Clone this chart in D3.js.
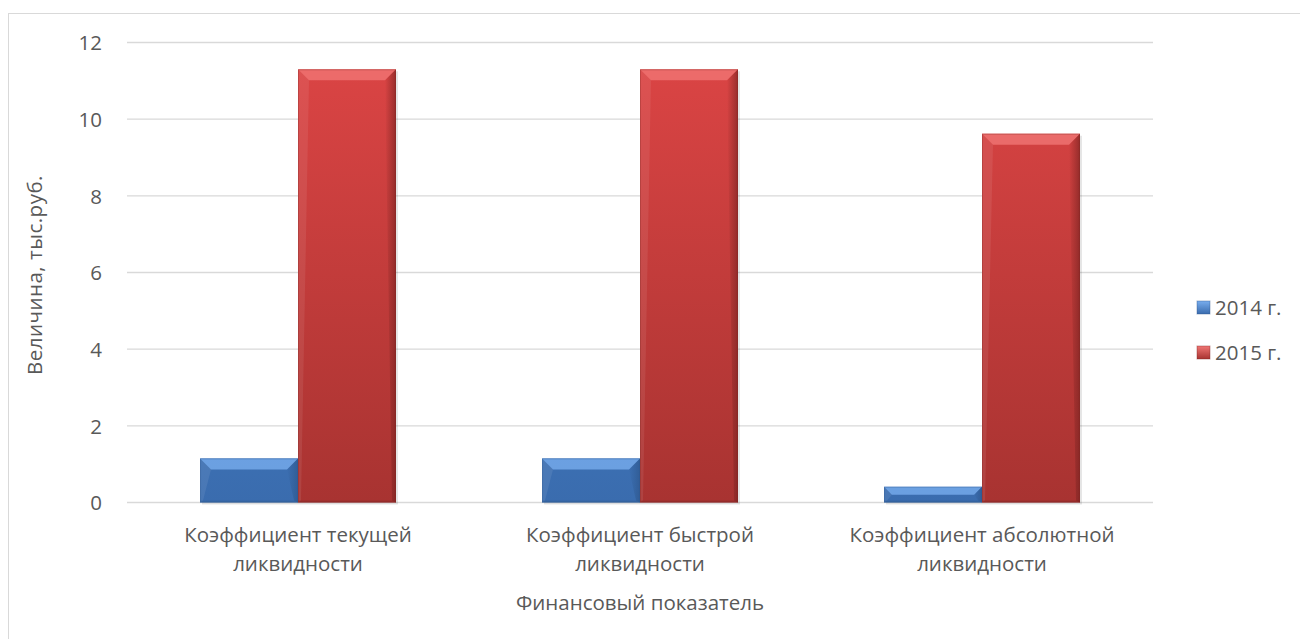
<!DOCTYPE html>
<html><head><meta charset="utf-8">
<script src="https://cdn.jsdelivr.net/npm/d3@7"></script>
<style>body{margin:0;background:#fff;} text{font-family:"Open Sans","Liberation Sans",sans-serif;}</style>
</head><body>
<svg id="c" width="1300" height="639"></svg>
<script>
const categories = [["Коэффициент текущей","ликвидности"],["Коэффициент быстрой","ликвидности"],["Коэффициент абсолютной","ликвидности"]];
const seriesNames = ["2014 г.","2015 г."];
const values2014 = [1.15, 1.15, 0.41];
const values2015 = [11.3, 11.3, 9.62];
const yTicks = [0,2,4,6,8,10,12];

const FS = 20.5;
const svg = d3.select("#c");
const M = {left:127, right:1153, top:42.5, bottom:502.5};
const colors = [
  {top:"#4a8ad6", bot:"#3a6cae", light:"#78adee", dark:"#2d568c"},
  {top:"#dd4545", bot:"#a83331", light:"#f07674", dark:"#7c2422"}
];
const defs = svg.append("defs");
colors.forEach((c,i)=>{
  const g = defs.append("linearGradient").attr("id","g"+i).attr("x1",0).attr("x2",0).attr("gradientUnits","userSpaceOnUse").attr("y1",M.top).attr("y2",M.bottom);
  g.append("stop").attr("offset",0).attr("stop-color",c.top);
  g.append("stop").attr("offset",1).attr("stop-color",c.bot);
  const lg = defs.append("linearGradient").attr("id","lg"+i).attr("x1",0).attr("y1",0).attr("x2",0).attr("y2",1);
  lg.append("stop").attr("offset",0).attr("stop-color",c.light);
  lg.append("stop").attr("offset",1).attr("stop-color",c.bot);
  const rg = defs.append("linearGradient").attr("id","rg"+i).attr("x1",0).attr("y1",0).attr("x2",1).attr("y2",0);
  rg.append("stop").attr("offset",0).attr("stop-color",c.dark).attr("stop-opacity",0);
  rg.append("stop").attr("offset",1).attr("stop-color",c.dark).attr("stop-opacity",0.7);
});

// chart border
svg.append("rect").attr("x",8.5).attr("y",13.5).attr("width",1300).attr("height",700).attr("fill","none").attr("stroke","#d9d9d9");

const x0 = d3.scaleBand().domain(d3.range(categories.length)).range([M.left,M.right]);
const y = d3.scaleLinear().domain([0,12]).range([M.bottom,M.top]);
const bw = x0.bandwidth();
const gap = bw*0.427;
const x1 = d3.scaleBand().domain([0,1]).range([gap/2, bw-gap/2]);

// gridlines
svg.append("g").selectAll("line").data(yTicks).join("line")
  .attr("x1",M.left).attr("x2",M.right).attr("y1",d=>y(d)).attr("y2",d=>y(d))
  .attr("stroke","#d9d9d9").attr("stroke-width",1.3);

// y axis labels
const yAxis = d3.axisLeft(y).tickValues(yTicks).tickSize(0).tickPadding(0);
const ya = svg.append("g").attr("transform",`translate(${M.left-25},0)`).call(yAxis);
ya.select(".domain").remove();
ya.selectAll("text").attr("font-size",FS).attr("fill","#595959").attr("font-family","'Open Sans',sans-serif").attr("dy","0.35em");

// bars
const series = [values2014, values2015];
series.forEach((vals,si)=>{
  const c = colors[si];
  vals.forEach((v,ci)=>{
    const bx = x0(ci)+x1(si), w = x1.bandwidth();
    const by = y(v), h = y(0)-y(v);
    const g = svg.append("g");
    g.append("rect").attr("x",bx+2).attr("y",by+2).attr("width",w).attr("height",h).attr("fill","#000").attr("opacity",0.1);
    g.append("rect").attr("x",bx).attr("y",by).attr("width",w).attr("height",h).attr("fill",`url(#g${si})`);
    const b = Math.min(11, h/2);
    g.append("polygon").attr("points",[[bx,by],[bx+w,by],[bx+w-b,by+b],[bx+b,by+b]].join(" ")).attr("fill",c.light).attr("opacity",0.8);
    g.append("polygon").attr("points",[[bx,by],[bx+b,by+b],[bx+3,by+h-2],[bx,by+h]].join(" ")).attr("fill","#fff").attr("opacity",0.08);
    g.append("polygon").attr("points",[[bx+w,by],[bx+w,by+h],[bx+w-4,by+h-2],[bx+w-b,by+b]].join(" ")).attr("fill",`url(#rg${si})`);
    g.append("rect").attr("x",bx).attr("y",by+h-2).attr("width",w).attr("height",2).attr("fill",c.dark).attr("opacity",0.3);
    g.append("rect").attr("x",bx+0.5).attr("y",by+0.5).attr("width",w-1).attr("height",h-1).attr("fill","none").attr("stroke",c.dark).attr("stroke-opacity",0.3);
  });
});

// category labels
categories.forEach((lines,ci)=>{
  const cx = x0(ci)+bw/2;
  lines.forEach((t,li)=>{
    svg.append("text").attr("x",cx).attr("y",542+li*29).attr("text-anchor","middle")
      .attr("font-size",FS).attr("fill","#595959").text(t);
  });
});

// axis titles
svg.append("text").attr("x",640).attr("y",610).attr("text-anchor","middle").attr("font-size",FS).attr("fill","#595959").text("Финансовый показатель");
svg.append("text").attr("transform","translate(42,275) rotate(-90)").attr("text-anchor","middle").attr("font-size",FS).attr("letter-spacing",0.5).attr("fill","#595959").text("Величина, тыс.руб.");

// legend
seriesNames.forEach((n,i)=>{
  const ly = 308 + i*45;
  svg.append("rect").attr("x",1197).attr("y",ly-7).attr("width",13).attr("height",13).attr("fill",`url(#lg${i})`).attr("stroke",colors[i].dark).attr("stroke-opacity",0.4);
  svg.append("text").attr("x",1215).attr("y",ly).attr("dy","0.35em").attr("font-size",FS).attr("fill","#595959").text(n);
});
</script>
</body></html>
